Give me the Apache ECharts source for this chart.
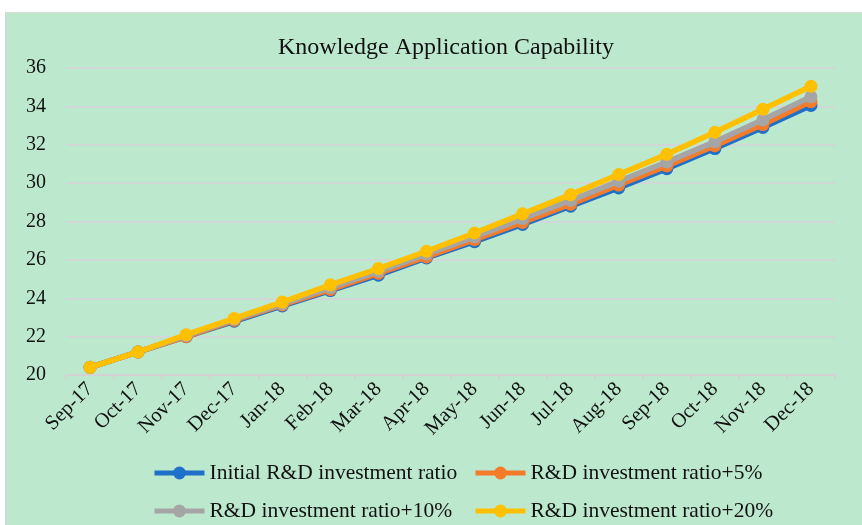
<!DOCTYPE html>
<html>
<head>
<meta charset="utf-8">
<script src="https://cdn.jsdelivr.net/npm/echarts@6/dist/echarts.min.js"></script>
<style>
html,body{margin:0;padding:0;background:#fff;}
#wrap{position:relative;width:862px;height:525px;background:#fff;overflow:hidden;}
#bg{position:absolute;left:5px;top:12px;width:857px;height:513px;background:#bce8ce;border-left:1px solid #d4d4d4;border-top:1px solid #dcdcdc;box-sizing:border-box;}
#chart{position:absolute;left:0;top:0;width:862px;height:525px;}
</style>
</head>
<body>
<div id="wrap"><div id="bg"></div><div id="chart"></div></div>
<script>
const titleText = 'Knowledge Application Capability';
const categories = ['Sep-17','Oct-17','Nov-17','Dec-17','Jan-18','Feb-18','Mar-18','Apr-18','May-18','Jun-18','Jul-18','Aug-18','Sep-18','Oct-18','Nov-18','Dec-18'];
const seriesNames = ['Initial R&D investment ratio','R&D investment ratio+5%','R&D investment ratio+10%','R&D investment ratio+20%'];
const initialRatio = [20.4,21.2,22.0,22.8,23.6,24.4,25.2,26.1,26.95,27.85,28.8,29.75,30.75,31.8,32.9,34.05];
const plus5 = [20.4,21.2,22.0,22.85,23.65,24.45,25.3,26.15,27.05,27.95,28.9,29.9,30.9,31.95,33.05,34.25];
const plus10 = [20.4,21.2,22.05,22.9,23.7,24.55,25.4,26.3,27.2,28.15,29.1,30.1,31.1,32.15,33.3,34.5];
const plus20 = [20.4,21.2,22.1,22.95,23.8,24.7,25.55,26.45,27.4,28.4,29.4,30.45,31.5,32.65,33.85,35.05];
const yMin = 20, yMax = 36, yStep = 2;

const colors = ['#1f70c8','#f47b2a','#a5a5a5','#ffc000'];
const dataSets = [initialRatio, plus5, plus10, plus20];
const font = 'Liberation Serif';

const chart = echarts.init(document.getElementById('chart'), null, {renderer:'canvas'});
const legendPos = [[152,462],[473,462],[152,500],[473,500]];
chart.setOption({
  backgroundColor: 'transparent',
  animation: false,
  title: {
    text: titleText, left: 441, textAlign: 'center', top: 31,
    textStyle: {fontFamily: font, fontSize: 24, fontWeight: 'normal', color: '#111'}
  },
  legend: seriesNames.map((n,i)=>({
    data:[n], left: legendPos[i][0], top: legendPos[i][1], padding: 0,
    itemWidth: 50, itemHeight: 16, itemGap: 4,
    lineStyle: {width: 5},
    textStyle:{fontFamily: font, fontSize: 21.5, color:'#111'}
  })),
  grid: {left: 66, right: 27, top: 68, bottom: 150, containLabel: false},
  xAxis: {
    type: 'category', data: categories, boundaryGap: true,
    axisLine: {lineStyle: {color: '#d6d0d6', width: 1.5}},
    axisTick: {show: true, length: 5, lineStyle: {color: '#d6d0d6', width: 1.5}},
    axisLabel: {rotate: 45, interval: 0, fontFamily: font, fontSize: 20.5, color: '#111', margin: 11}
  },
  yAxis: {
    type: 'value', min: yMin, max: yMax, interval: yStep,
    axisLine: {show: false}, axisTick: {show: false},
    splitLine: {lineStyle: {color: '#d8d2d8', width: 1.5}},
    axisLabel: {fontFamily: font, fontSize: 20, color: '#111', margin: 20}
  },
  series: dataSets.map((d,i)=>({
    name: seriesNames[i], type: 'line', data: d,
    color: colors[i],
    lineStyle: {width: 5.5, color: colors[i]},
    itemStyle: {color: colors[i]},
    symbol: 'circle', symbolSize: 13, showSymbol: true,
    z: 2 + i
  }))
});
</script>
</body>
</html>
